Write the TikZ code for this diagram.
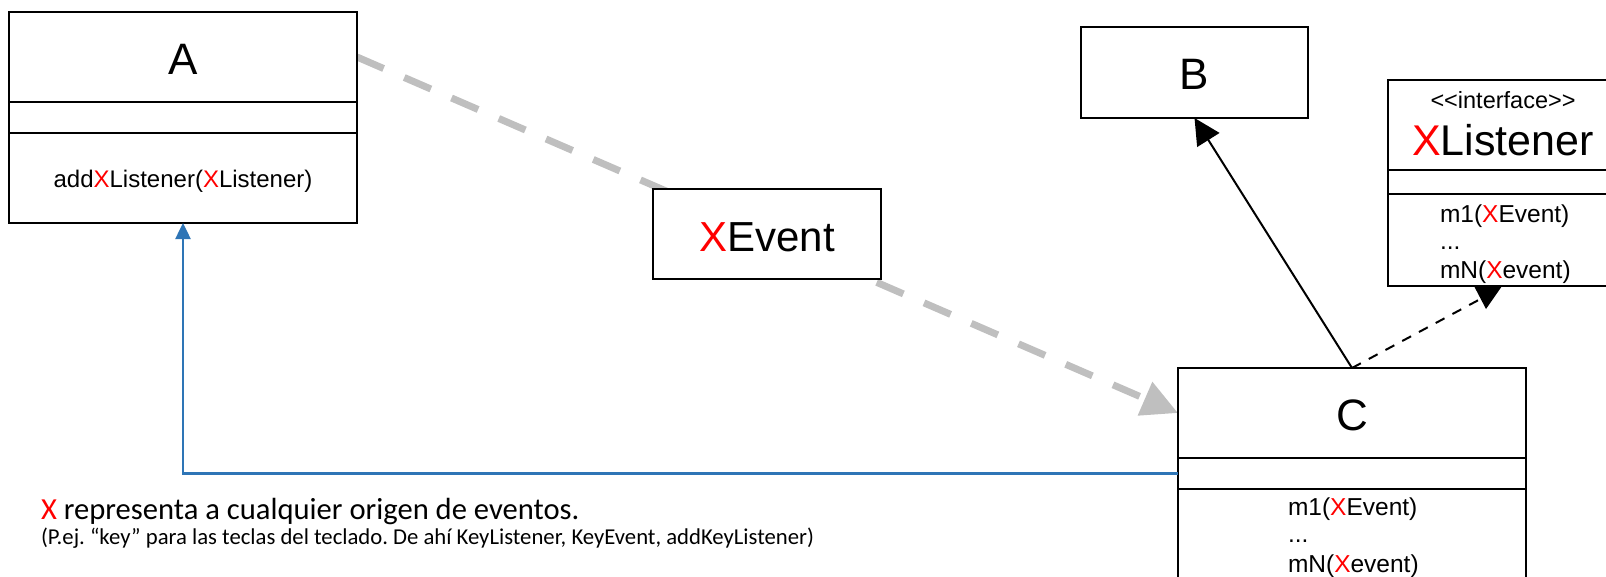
\documentclass[tikz,border=0pt]{standalone}
\usepackage{fontspec}
\setmainfont{Liberation Sans}
\newfontfamily\calib{Carlito}
\usetikzlibrary{arrows.meta,backgrounds}
\definecolor{xred}{RGB}{255,0,0}
\definecolor{lgray}{RGB}{191,191,191}
\definecolor{lblue}{RGB}{46,117,182}
\newcommand{\xr}{\textcolor{xred}{X}}
\frenchspacing
\tikzset{
  box/.style={draw, line width=2pt, fill=white, inner sep=0pt, outer sep=0pt, anchor=north west},
  txt/.style={inner sep=0pt, outer sep=0pt},
  big/.style={txt, anchor=base, font=\fontsize{44}{52}\selectfont},
  meth/.style={txt, font=\fontsize{24.5}{28}\selectfont},
  graydash/.style={draw=lgray, line width=7pt, dash pattern=on 29pt off 22.5pt, -{Triangle[length=36pt,width=35pt]}},
  blueline/.style={draw=lblue, line width=2.5pt, -{Triangle[length=16pt,width=15pt]}},
  genline/.style={draw=black, line width=2pt, -{Triangle[length=26pt,width=26pt]}},
  realline/.style={draw=black, line width=2pt, dash pattern=on 10pt off 9pt}
}
\begin{document}
\begin{tikzpicture}[x=1pt,y=-1pt]
\useasboundingbox (0,0) rectangle (1606,576);
\clip (0,0) rectangle (1606,576);
% A
\node[box, minimum width=348pt, minimum height=90pt] (Atitle) at (9,12) {};
\node[box, minimum width=348pt, minimum height=31pt] (Aattr) at (9,102) {};
\node[box, minimum width=348pt, minimum height=90pt] (Aops) at (9,133) {};
\node[big] (Alabel) at (183,74) {A};
\node[meth, anchor=base, font=\fontsize{24}{28}\selectfont] (Ameth) at (183,187) {add\xr Listener(\xr Listener)};
% B
\node[box, minimum width=227pt, minimum height=91pt] (B) at (1081,27) {};
\node[big] (Blabel) at (1194.5,89) {B};
% XEvent
\node[box, minimum width=228pt, minimum height=90pt] (XE) at (653,189) {};
\node[big, font=\fontsize{42}{50}\selectfont] (XElabel) at (767,251) {\xr Event};
% XListener
\node[box, minimum width=230pt, minimum height=90pt] (XLtitle) at (1388,80) {};
\node[box, minimum width=230pt, minimum height=24pt] (XLattr) at (1388,170) {};
\node[box, minimum width=230pt, minimum height=92pt] (XLops) at (1388,194) {};
\node[txt, anchor=base, font=\fontsize{23.5}{27}\selectfont] (XLster) at (1503,108) {<{}<interface>{}>};
\node[big, font=\fontsize{43}{50}\selectfont] (XLlabel) at (1503,155) {\xr Listener};
\node[meth, anchor=base west] (XLm1) at (1440,222) {m1(\xr Event)};
\node[meth, anchor=base west] (XLm2) at (1440,249) {...};
\node[meth, anchor=base west] (XLm3) at (1440,278) {mN(\xr event)};
% C
\node[box, minimum width=348pt, minimum height=90pt] (Ctitle) at (1178,368) {};
\node[box, minimum width=348pt, minimum height=31pt] (Cattr) at (1178,458) {};
\node[box, minimum width=348pt, minimum height=120pt] (Cops) at (1178,489) {};
\node[big] (Clabel) at (1352,430) {C};
\node[meth, anchor=base west] (Cm1) at (1288,515) {m1(\xr Event)};
\node[meth, anchor=base west] (Cm2) at (1288,542) {...};
\node[meth, anchor=base west] (Cm3) at (1288,572) {mN(\xr event)};
% connectors
\begin{scope}[on background layer]
\draw[graydash] (Atitle.east) -- (Ctitle.west);
\end{scope}
\draw[blueline] (Cattr.west) -| (Aops.south);
\draw[genline] (Ctitle.north) -- (B.south);
\coordinate (xlhead) at (1486,296);
\draw[realline] (Ctitle.north) -- (xlhead);
\fill (1474,286) -- (1502,286) -- (1486,309) -- cycle;
% note
\node[txt, anchor=base west, font=\calib\fontsize{30.6}{36}\selectfont] (note1) at (41,519) {\xr{} representa a cualquier origen de eventos.};
\node[txt, anchor=base west, font=\calib\fontsize{22.7}{27}\selectfont] (note2) at (41,544) {(P.ej. “key” para las teclas del teclado. De ahí KeyListener, KeyEvent, addKeyListener)};
\end{tikzpicture}
\end{document}
